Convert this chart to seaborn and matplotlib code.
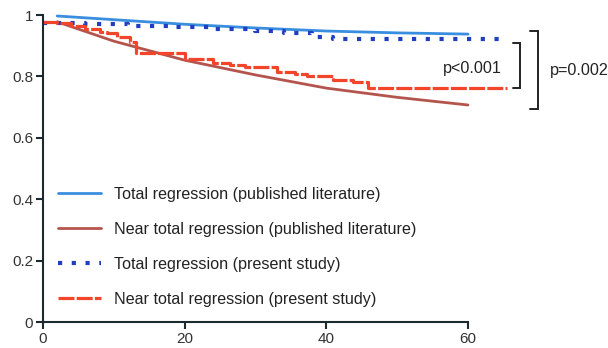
import numpy as np
import pandas as pd
import matplotlib
matplotlib.use("Agg")
import matplotlib.pyplot as plt
import seaborn as sns

# published literature curves
lit_months = [2, 10, 20, 30, 40, 50, 60]
lit_total = [0.997, 0.985, 0.970, 0.958, 0.948, 0.942, 0.938]
lit_near_total = [0.978, 0.915, 0.853, 0.805, 0.762, 0.732, 0.707]

# present study Kaplan-Meier steps
study_total_t = [0, 6, 12, 18, 24, 30, 34, 38, 41, 65.5]
study_total_s = [0.975, 0.970, 0.965, 0.960, 0.955, 0.948, 0.940, 0.930, 0.922, 0.922]
study_near_t = [0, 2, 4, 6, 8, 9, 10.5, 12.3, 13.2, 20, 24, 26.4, 28.5, 33, 35.6,
                37.3, 41, 43.8, 45.9, 65.5]
study_near_s = [0.978, 0.975, 0.965, 0.955, 0.945, 0.940, 0.930, 0.913, 0.875, 0.856,
                0.845, 0.837, 0.832, 0.815, 0.807, 0.800, 0.790, 0.783, 0.761, 0.761]

labels = ["Total regression (published literature)",
          "Near total regression (published literature)",
          "Total regression (present study)",
          "Near total regression (present study)"]
p_inner = "p<0.001"
p_outer = "p=0.002"

sns.set_theme(style="white")
plt.rcParams["font.family"] = ["Liberation Sans", "DejaVu Sans"]

fig = plt.figure(figsize=(6.08, 3.48), dpi=100)
ax = fig.add_axes([0.0707, 0.0747, 0.699, 0.882])

c_lit_total = "#3a8ee0"
c_lit_near = "#b4554d"
c_st_total = "#1f3fc0"
c_st_near = "#f2452a"

lit = pd.DataFrame({"t": lit_months, "total": lit_total, "near": lit_near_total})
sns.lineplot(data=lit, x="t", y="total", ax=ax, color=c_lit_total, lw=2,
             label=labels[0], clip_on=False)
sns.lineplot(data=lit, x="t", y="near", ax=ax, color=c_lit_near, lw=2,
             label=labels[1], clip_on=False)
sns.lineplot(x=study_total_t, y=study_total_s, ax=ax, color=c_st_total, lw=3,
             drawstyle="steps-post", linestyle=(0, (1, 2.3)),
             label=labels[2], clip_on=False)
sns.lineplot(x=study_near_t, y=study_near_s, ax=ax, color=c_st_near, lw=2.3,
             drawstyle="steps-post", linestyle=(0, (5, 0.7)),
             label=labels[3], clip_on=False)

ax.set_xlim(0, 60)
ax.set_ylim(0, 1)
ax.set_xticks([0, 20, 40, 60])
ax.set_yticks([0, 0.2, 0.4, 0.6, 0.8, 1])
ax.set_yticklabels(["0", "0.2", "0.4", "0.6", "0.8", "1"])
ax.set_xlabel("")
ax.set_ylabel("")
for side in ["top", "right"]:
    ax.spines[side].set_visible(False)
for side in ["left", "bottom"]:
    ax.spines[side].set_color("#1c2a30")
    ax.spines[side].set_linewidth(1.5)
ax.tick_params(axis="both", direction="out", length=5, width=1.5, color="#1c2a30",
               labelsize=11, labelcolor="#333333", pad=2, left=True, bottom=True)

# legend (lines only, no frame)
handles, _ = ax.get_legend_handles_labels()
ax.legend(handles, labels, loc="lower left", bbox_to_anchor=(0.02, 0.028),
          frameon=False, fontsize=11.6, handlelength=2.7, handletextpad=0.75,
          labelspacing=1.25, borderaxespad=0, labelcolor="#222222")

# significance brackets
def bracket(x0, x1, y0, y1):
    ax.plot([x0, x1, x1, x0], [y0, y0, y1, y1], color="#222222", lw=1.4,
            clip_on=False, solid_joinstyle="miter")

bracket(66.4, 67.4, study_total_s[-1] - 0.013, study_near_s[-1])
bracket(68.8, 69.9, lit_total[-1] + 0.01, lit_near_total[-1] - 0.013)
ax.text(64.8, 0.827, p_inner, ha="right", va="center", fontsize=11.6, color="#222222")
ax.text(71.6, 0.82, p_outer, ha="left", va="center", fontsize=11.6, color="#222222")

fig.savefig("out.png", dpi=100, facecolor="white")
